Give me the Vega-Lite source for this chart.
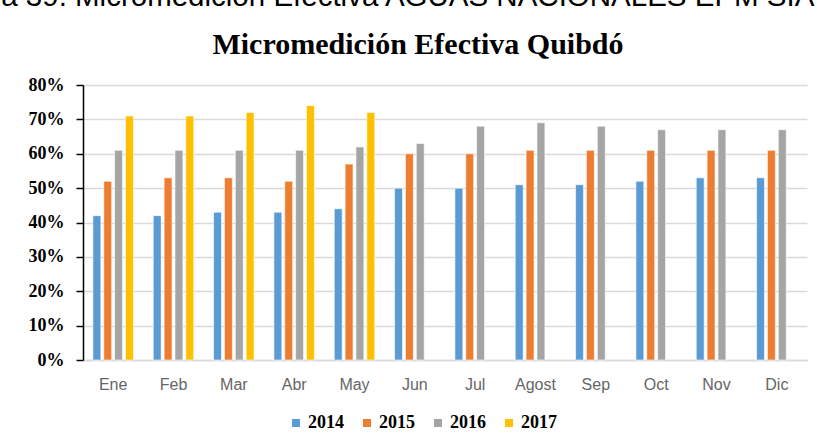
{
  "$schema": "https://vega.github.io/schema/vega-lite/v6.json",
  "padding": {"left": -66, "top": -19, "right": 0, "bottom": 0},
  "background": "white",
  "title": {
    "text": "Figura 39. Micromedición Efectiva AGUAS NACIONALES EPM SIA",
    "anchor": "start",
    "frame": "group",
    "font": "Liberation Sans",
    "fontSize": 29.5,
    "fontWeight": "normal",
    "color": "#000000",
    "dx": -149,
    "offset": 18
  },
  "vconcat": [
    {
      "width": 724,
      "height": 275,
      "title": {
        "text": "Micromedición Efectiva Quibdó",
        "anchor": "middle",
        "font": "Liberation Serif",
        "fontSize": 30,
        "fontWeight": "bold",
        "color": "#000000",
        "dx": -27,
        "offset": 16
      },
      "data": {
        "values": [
          {"mes": "Ene", "anio": "2014", "valor": 0.42},
          {"mes": "Ene", "anio": "2015", "valor": 0.52},
          {"mes": "Ene", "anio": "2016", "valor": 0.61},
          {"mes": "Ene", "anio": "2017", "valor": 0.71},
          {"mes": "Feb", "anio": "2014", "valor": 0.42},
          {"mes": "Feb", "anio": "2015", "valor": 0.53},
          {"mes": "Feb", "anio": "2016", "valor": 0.61},
          {"mes": "Feb", "anio": "2017", "valor": 0.71},
          {"mes": "Mar", "anio": "2014", "valor": 0.43},
          {"mes": "Mar", "anio": "2015", "valor": 0.53},
          {"mes": "Mar", "anio": "2016", "valor": 0.61},
          {"mes": "Mar", "anio": "2017", "valor": 0.72},
          {"mes": "Abr", "anio": "2014", "valor": 0.43},
          {"mes": "Abr", "anio": "2015", "valor": 0.52},
          {"mes": "Abr", "anio": "2016", "valor": 0.61},
          {"mes": "Abr", "anio": "2017", "valor": 0.74},
          {"mes": "May", "anio": "2014", "valor": 0.44},
          {"mes": "May", "anio": "2015", "valor": 0.57},
          {"mes": "May", "anio": "2016", "valor": 0.62},
          {"mes": "May", "anio": "2017", "valor": 0.72},
          {"mes": "Jun", "anio": "2014", "valor": 0.50},
          {"mes": "Jun", "anio": "2015", "valor": 0.60},
          {"mes": "Jun", "anio": "2016", "valor": 0.63},
          {"mes": "Jul", "anio": "2014", "valor": 0.50},
          {"mes": "Jul", "anio": "2015", "valor": 0.60},
          {"mes": "Jul", "anio": "2016", "valor": 0.68},
          {"mes": "Agost", "anio": "2014", "valor": 0.51},
          {"mes": "Agost", "anio": "2015", "valor": 0.61},
          {"mes": "Agost", "anio": "2016", "valor": 0.69},
          {"mes": "Sep", "anio": "2014", "valor": 0.51},
          {"mes": "Sep", "anio": "2015", "valor": 0.61},
          {"mes": "Sep", "anio": "2016", "valor": 0.68},
          {"mes": "Oct", "anio": "2014", "valor": 0.52},
          {"mes": "Oct", "anio": "2015", "valor": 0.61},
          {"mes": "Oct", "anio": "2016", "valor": 0.67},
          {"mes": "Nov", "anio": "2014", "valor": 0.53},
          {"mes": "Nov", "anio": "2015", "valor": 0.61},
          {"mes": "Nov", "anio": "2016", "valor": 0.67},
          {"mes": "Dic", "anio": "2014", "valor": 0.53},
          {"mes": "Dic", "anio": "2015", "valor": 0.61},
          {"mes": "Dic", "anio": "2016", "valor": 0.67}
        ]
      },
      "mark": {"type": "bar", "stroke": "white", "strokeWidth": 0.6},
      "encoding": {
        "x": {
          "field": "mes",
          "type": "nominal",
          "sort": ["Ene", "Feb", "Mar", "Abr", "May", "Jun", "Jul", "Agost", "Sep", "Oct", "Nov", "Dic"],
          "scale": {"paddingInner": 0.28, "paddingOuter": 0.14},
          "axis": {
            "title": null,
            "labelAngle": 0,
            "labelFont": "Liberation Sans",
            "labelFontSize": 16,
            "labelColor": "#666666",
            "labelPadding": 16,
            "ticks": false,
            "domainColor": "#d9d9d9",
            "domainWidth": 1.5
          }
        },
        "xOffset": {
          "field": "anio",
          "type": "nominal",
          "scale": {"domain": ["2014", "2015", "2016", "2017"], "paddingInner": 0.27, "paddingOuter": 0.135}
        },
        "y": {
          "field": "valor",
          "type": "quantitative",
          "scale": {"domain": [0, 0.8]},
          "axis": {
            "title": null,
            "format": ".0%",
            "values": [0, 0.1, 0.2, 0.3, 0.4, 0.5, 0.6, 0.7, 0.8],
            "labelFont": "Liberation Serif",
            "labelFontSize": 18,
            "labelFontWeight": "bold",
            "labelColor": "#000000",
            "labelPadding": 12,
            "tickColor": "#000000",
            "tickSize": 7,
            "tickWidth": 1.5,
            "domainColor": "#000000",
            "domainWidth": 1.5,
            "gridColor": "#d9d9d9",
            "gridWidth": 1.5
          }
        },
        "color": {
          "field": "anio",
          "type": "nominal",
          "scale": {"domain": ["2014", "2015", "2016", "2017"], "range": ["#5B9BD5", "#ED7D31", "#A5A5A5", "#FFC000"]},
          "legend": {
            "title": null,
            "orient": "none",
            "legendX": 204,
            "legendY": 329,
            "direction": "horizontal",
            "symbolType": "square",
            "symbolSize": 64,
            "symbolStrokeWidth": 0,
            "labelFont": "Liberation Serif",
            "labelFontSize": 18,
            "labelFontWeight": "bold",
            "labelColor": "#000000",
            "labelOffset": 3,
            "columnPadding": 14
          }
        }
      }
    }
  ],
  "config": {
    "view": {"stroke": null}
  }
}
